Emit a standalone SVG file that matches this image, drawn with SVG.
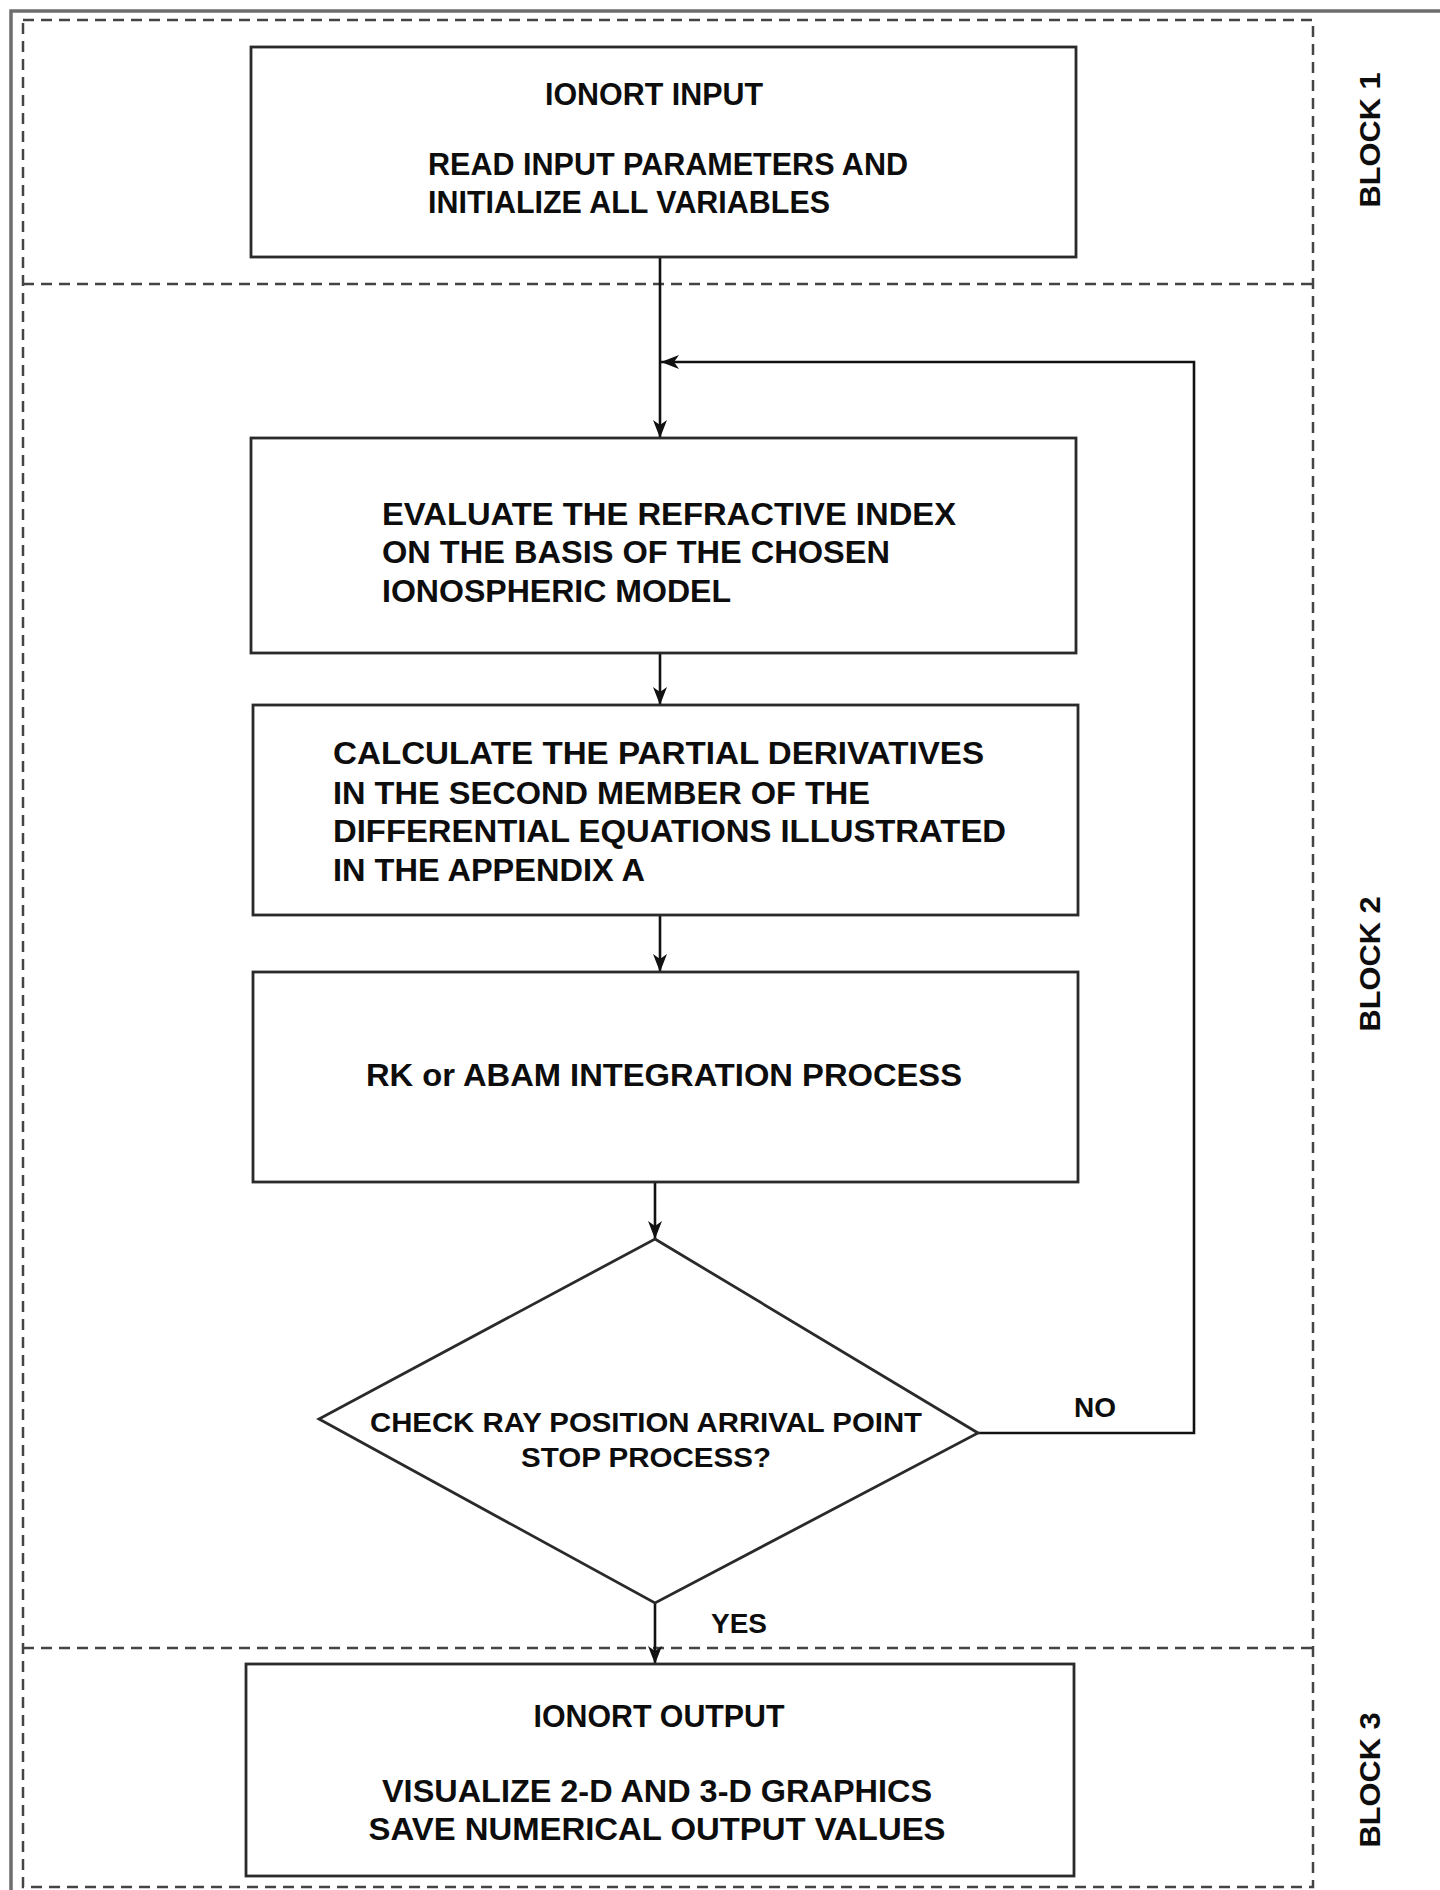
<svg xmlns="http://www.w3.org/2000/svg" width="1440" height="1890" viewBox="0 0 1440 1890">
  <style>
    .frame { fill: none; stroke: #6e6e6e; stroke-width: 3.5; }
    .zone { fill: none; stroke: #444; stroke-width: 2.5; stroke-dasharray: 11 7; }
    .box { fill: #fff; stroke: #2a2a2a; stroke-width: 2.8; }
    .link { fill: none; stroke: #111; stroke-width: 2.6; }
    .t { font-family: "Liberation Sans", Arial, sans-serif; font-weight: bold; fill: #0d0d0d; font-size: 32px; }
    .c { text-anchor: middle; }
    .d { font-size: 27px; }
    .lbl { font-size: 28px; }
    .blk { font-size: 30px; text-anchor: middle; }
  </style>
  <defs>
    <marker id="arrow" viewBox="0 0 18 14" refX="18" refY="7" markerWidth="18" markerHeight="14" orient="auto" markerUnits="userSpaceOnUse">
      <path d="M0,0 L18,7 L0,14 L5,7 z" fill="#111"/>
    </marker>
  </defs>

  <rect width="1440" height="1890" fill="#fff"/>

  <!-- outer page frame -->
  <path class="frame" d="M1440,11 L11,11 L11,1890"/>

  <!-- dashed block zones -->
  <g id="zones">
    <rect class="zone" x="23" y="20" width="1290" height="1867"/>
    <line class="zone" x1="23" y1="284" x2="1313" y2="284"/>
    <line class="zone" x1="23" y1="1648" x2="1313" y2="1648"/>
  </g>

  <!-- connectors -->
  <g id="connectors">
    <line class="link" x1="660" y1="257" x2="660" y2="438" marker-end="url(#arrow)"/>
    <line class="link" x1="660" y1="653" x2="660" y2="705" marker-end="url(#arrow)"/>
    <line class="link" x1="660" y1="915" x2="660" y2="972" marker-end="url(#arrow)"/>
    <line class="link" x1="655" y1="1182" x2="655" y2="1239" marker-end="url(#arrow)"/>
    <line class="link" x1="655" y1="1603" x2="655" y2="1664" marker-end="url(#arrow)"/>
    <polyline class="link" points="978,1433 1194,1433 1194,362 661,362" marker-end="url(#arrow)"/>
    <text class="t lbl c" x="1095" y="1417">NO</text>
    <text class="t lbl c" x="739" y="1633">YES</text>
  </g>

  <g id="input">
    <rect class="box" x="251" y="47" width="825" height="210"/>
    <text class="t c" x="654" y="105" textLength="218" lengthAdjust="spacingAndGlyphs">IONORT INPUT</text>
    <text class="t" x="428" y="175" textLength="480" lengthAdjust="spacingAndGlyphs">READ INPUT PARAMETERS AND</text>
    <text class="t" x="428" y="213" textLength="402" lengthAdjust="spacingAndGlyphs">INITIALIZE ALL VARIABLES</text>
  </g>

  <g id="refractive-index">
    <rect class="box" x="251" y="438" width="825" height="215"/>
    <text class="t" x="382" y="525" textLength="574" lengthAdjust="spacingAndGlyphs">EVALUATE THE REFRACTIVE INDEX</text>
    <text class="t" x="382" y="563" textLength="508" lengthAdjust="spacingAndGlyphs">ON THE BASIS OF THE CHOSEN</text>
    <text class="t" x="382" y="602" textLength="349" lengthAdjust="spacingAndGlyphs">IONOSPHERIC MODEL</text>
  </g>

  <g id="derivatives">
    <rect class="box" x="253" y="705" width="825" height="210"/>
    <text class="t" x="333" y="764" textLength="651" lengthAdjust="spacingAndGlyphs">CALCULATE THE PARTIAL DERIVATIVES</text>
    <text class="t" x="333" y="804" textLength="537" lengthAdjust="spacingAndGlyphs">IN THE SECOND MEMBER OF THE</text>
    <text class="t" x="333" y="842" textLength="673" lengthAdjust="spacingAndGlyphs">DIFFERENTIAL EQUATIONS ILLUSTRATED</text>
    <text class="t" x="333" y="881" textLength="312" lengthAdjust="spacingAndGlyphs">IN THE APPENDIX A</text>
  </g>

  <g id="integration">
    <rect class="box" x="253" y="972" width="825" height="210"/>
    <text class="t" x="366" y="1086" textLength="596" lengthAdjust="spacingAndGlyphs">RK or ABAM INTEGRATION PROCESS</text>
  </g>

  <g id="stop-check">
    <polygon class="box" points="655,1239 978,1433 655,1603 319,1419"/>
    <text class="t d c" x="646" y="1432" textLength="552" lengthAdjust="spacingAndGlyphs">CHECK RAY POSITION ARRIVAL POINT</text>
    <text class="t d c" x="646" y="1467" textLength="250" lengthAdjust="spacingAndGlyphs">STOP PROCESS?</text>
  </g>

  <g id="output">
    <rect class="box" x="246" y="1664" width="828" height="212"/>
    <text class="t c" x="659" y="1727" textLength="251" lengthAdjust="spacingAndGlyphs">IONORT OUTPUT</text>
    <text class="t c" x="657" y="1802" textLength="550" lengthAdjust="spacingAndGlyphs">VISUALIZE 2-D AND 3-D GRAPHICS</text>
    <text class="t c" x="657" y="1840" textLength="577" lengthAdjust="spacingAndGlyphs">SAVE NUMERICAL OUTPUT VALUES</text>
  </g>

  <!-- block captions, reading upward -->
  <g id="block-labels">
    <text class="t blk" transform="translate(1380,140) rotate(-90)" textLength="135" lengthAdjust="spacingAndGlyphs">BLOCK 1</text>
    <text class="t blk" transform="translate(1380,964) rotate(-90)" textLength="135" lengthAdjust="spacingAndGlyphs">BLOCK 2</text>
    <text class="t blk" transform="translate(1380,1780) rotate(-90)" textLength="135" lengthAdjust="spacingAndGlyphs">BLOCK 3</text>
  </g>
</svg>
